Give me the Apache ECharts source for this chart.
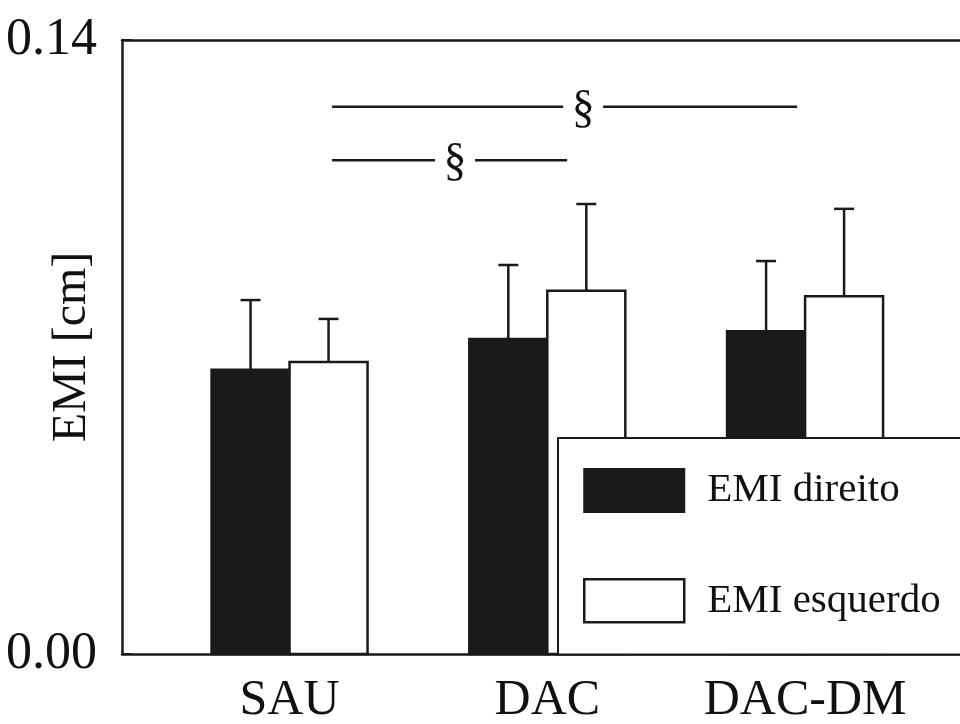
<!DOCTYPE html>
<html>
<head>
<meta charset="utf-8">
<script src="https://cdn.jsdelivr.net/npm/echarts@6/dist/echarts.min.js"></script>
<style>
  html, body { margin: 0; padding: 0; background: #fff; }
  #main { width: 960px; height: 724px; }
</style>
</head>
<body>
<div id="main"></div>
<script>
// dados
var categories = ['SAU', 'DAC', 'DAC-DM'];
var emiDireito = [0.0648, 0.0718, 0.0736];
var emiDireitoSD = [0.0159, 0.0169, 0.0160];
var emiEsquerdo = [0.0666, 0.0828, 0.0816];
var emiEsquerdoSD = [0.0098, 0.0198, 0.0199];
var yTicks = [0, 0.14];

// significancia: [inicio, fim, altura, posicao do simbolo]
var sigStart = [0.165, 0.165];
var sigEnd = [1.969, 1.077];
var sigLevel = [0.1248, 0.1126];
var sigMark = [1.139, 0.642];

var FONT = '"Liberation Serif", "Times New Roman", serif';
var INK = '#1a1a1a';
var BAR_W = 0.3026;

function seriesData(means, sds) {
  return means.map(function(m, i) { return [i, m, sds[i]]; });
}

function barRenderer(side, fill) {
  return function(params, api) {
    var x = api.value(0), m = api.value(1), sd = api.value(2);
    var x0 = side < 0 ? x - BAR_W : x;
    var x1 = side < 0 ? x : x + BAR_W;
    var pBase = api.coord([x0, 0]);
    var pTop = api.coord([x1, m]);
    var cx = (pBase[0] + pTop[0]) / 2;
    var errY = api.coord([x, m + sd])[1];
    return {
      type: 'group',
      children: [
        {
          type: 'rect',
          shape: { x: pBase[0], y: pTop[1], width: pTop[0] - pBase[0], height: pBase[1] - pTop[1] },
          style: { fill: fill, stroke: INK, lineWidth: 2.5 }
        },
        {
          type: 'line',
          shape: { x1: cx, y1: pTop[1], x2: cx, y2: errY },
          style: { stroke: INK, lineWidth: 2.5 }
        },
        {
          type: 'line',
          shape: { x1: cx - 10, y1: errY, x2: cx + 10, y2: errY },
          style: { stroke: INK, lineWidth: 2.5 }
        }
      ]
    };
  };
}

var chart = echarts.init(document.getElementById('main'));

chart.setOption({
  backgroundColor: '#fff',
  animation: false,
  grid: { left: 122, right: 0, top: 40, bottom: 70, containLabel: false, outerBoundsMode: 'none' },
  xAxis: [
    {
      type: 'value',
      min: -0.65,
      max: 2.601,
      splitLine: { show: false },
      axisLine: { show: true, onZero: false, lineStyle: { color: INK, width: 2.5 } },
      axisTick: { show: false },
      axisLabel: {
        customValues: [0, 1, 2],
        formatter: function(v) { return categories[Math.round(v)]; },
        fontFamily: FONT,
        fontSize: 50,
        color: '#111',
        margin: 22
      }
    },
    {
      type: 'value',
      position: 'top',
      min: -0.65,
      max: 2.601,
      splitLine: { show: false },
      axisLine: { show: true, onZero: false, lineStyle: { color: INK, width: 2.5 } },
      axisTick: { show: false },
      axisLabel: { show: false }
    }
  ],
  yAxis: {
    type: 'value',
    min: yTicks[0],
    max: yTicks[1],
    interval: yTicks[1] - yTicks[0],
    name: 'EMI [cm]',
    nameLocation: 'middle',
    nameGap: 26,
    nameMoveOverlap: false,
    nameTextStyle: { fontFamily: FONT, fontSize: 48, color: '#111' },
    splitLine: { show: false },
    axisLine: { show: true, onZero: false, lineStyle: { color: INK, width: 2.5 } },
    axisTick: { show: true, inside: true, length: 10, lineStyle: { color: INK, width: 2 } },
    axisLabel: {
      formatter: function(v) { return v.toFixed(2); },
      fontFamily: FONT,
      fontSize: 52,
      color: '#111',
      margin: 25
    }
  },
  legend: {
    orient: 'vertical',
    left: 558,
    top: 438,
    z: 10,
    padding: [30, 120, 31, 25],
    itemWidth: 100,
    itemHeight: 43,
    itemGap: 65,
    backgroundColor: '#fff',
    borderColor: INK,
    borderWidth: 2,
    borderRadius: 0,
    icon: 'rect',
    textStyle: { fontFamily: FONT, fontSize: 41, color: '#111', padding: [0, 0, 0, 18] },
    data: [
      { name: 'EMI direito', itemStyle: { color: INK, borderColor: INK, borderWidth: 2 } },
      { name: 'EMI esquerdo', itemStyle: { color: '#fff', borderColor: INK, borderWidth: 2.5 } }
    ]
  },
  series: [
    {
      name: 'EMI direito',
      type: 'custom',
      itemStyle: { color: INK },
      renderItem: barRenderer(-1, INK),
      encode: { x: 0, y: [1, 2] },
      data: seriesData(emiDireito, emiDireitoSD)
    },
    {
      name: 'EMI esquerdo',
      type: 'custom',
      itemStyle: { color: '#fff', borderColor: INK, borderWidth: 2.5 },
      renderItem: barRenderer(1, '#fff'),
      encode: { x: 0, y: [1, 2] },
      data: seriesData(emiEsquerdo, emiEsquerdoSD)
    },
    {
      name: 'sig',
      type: 'custom',
      silent: true,
      renderItem: function(params, api) {
        var a = api.coord([api.value(0), api.value(2)]);
        var b = api.coord([api.value(1), api.value(2)]);
        var s = api.coord([api.value(3), api.value(2)]);
        var gap = 20;
        return {
          type: 'group',
          children: [
            { type: 'line', shape: { x1: a[0], y1: a[1], x2: s[0] - gap, y2: a[1] }, style: { stroke: INK, lineWidth: 2.5 } },
            { type: 'line', shape: { x1: s[0] + gap, y1: a[1], x2: b[0], y2: a[1] }, style: { stroke: INK, lineWidth: 2.5 } },
            { type: 'text', x: s[0], y: a[1] + 3, style: { text: '§', fontFamily: FONT, fontSize: 46, fill: '#111', align: 'center', verticalAlign: 'middle' } }
          ]
        };
      },
      data: sigStart.map(function(v, i) { return [v, sigEnd[i], sigLevel[i], sigMark[i]]; })
    }
  ]
});
</script>
</body>
</html>
